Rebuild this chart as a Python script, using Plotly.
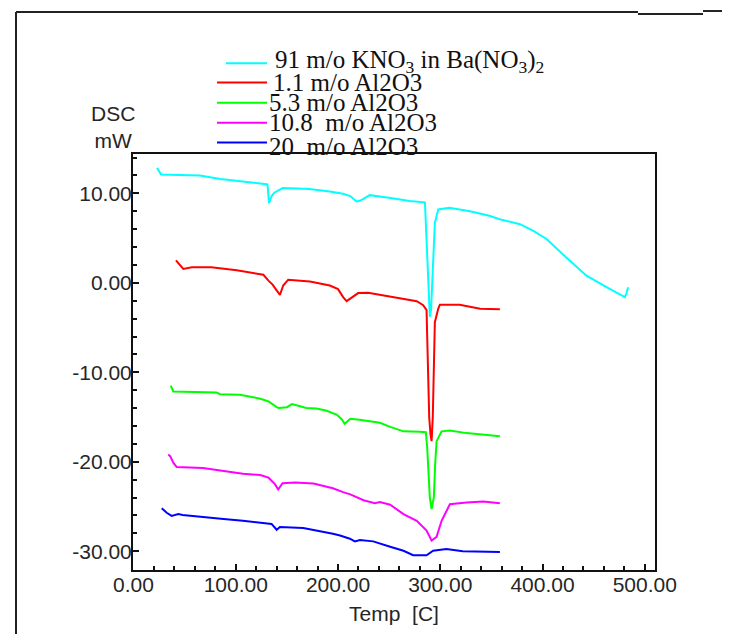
import plotly.graph_objects as go

# ---------------- data ----------------
names = [
    "91 m/o KNO<sub>3</sub> in Ba(NO<sub>3</sub>)<sub>2</sub>",
    "1.1 m/o Al2O3",
    "5.3 m/o Al2O3",
    "10.8  m/o Al2O3",
    "20  m/o Al2O3",
]
colors = ["#00FFFF", "#FF0000", "#00FF00", "#FF00FF", "#0000FF"]

t_kno3 = [23, 25, 27, 45, 65, 85, 105, 124, 131, 132.5, 133.5, 135, 138, 146, 160, 172, 192, 205, 212,
          218, 222, 226, 231, 250, 270, 285, 286.5, 288, 289.8, 291, 292.5, 294.7, 298, 309, 329, 348,
          358, 378, 391, 404, 423, 443, 463, 480.5, 482, 483.7]
y_kno3 = [12.85, 12.5, 12.1, 12.05, 12.0, 11.6, 11.3, 11.1, 11.0, 8.9, 9.2, 9.7, 10.1, 10.6, 10.55, 10.5,
          10.2, 9.95, 9.7, 9.1, 9.2, 9.5, 9.8, 9.5, 9.15, 9.0, 4.9, 0.0, -3.8, -3.0, 0.8, 6.7, 8.2, 8.4,
          8.0, 7.5, 7.1, 6.55, 5.8, 4.9, 2.85, 0.8, -0.5, -1.6, -1.2, -0.5]

t_a11 = [41.5, 45.5, 48.7, 57, 76, 101, 115, 127, 132, 136, 140, 143.2, 146.4, 151.3, 172.5, 192, 200,
         205, 208.4, 211.5, 215, 219.7, 229.5, 257, 277, 283.3, 286.6, 287.2, 289.2, 290.5, 291.5, 292.7,
         293.7, 294.7, 298, 299.6, 319, 339, 358.3]
y_a11 = [2.5, 2.0, 1.55, 1.75, 1.75, 1.4, 1.1, 0.9, 0.25, -0.2, -0.85, -1.35, -0.3, 0.35, 0.15, -0.3,
         -0.7, -1.6, -2.05, -1.8, -1.45, -1.15, -1.1, -1.7, -2.05, -2.5, -3.05, -5.9, -15.1, -17.0, -17.7,
         -15.0, -11.0, -4.4, -2.9, -2.45, -2.45, -2.9, -2.95]

t_a53 = [36.4, 38.9, 60, 81, 84.6, 104, 124, 132, 140, 142, 150, 155, 169, 179, 189, 199, 204, 206.5,
         209, 212, 221, 228, 241, 251, 264, 280, 285.9, 287.2, 289.8, 291.5, 293.7, 295, 296.4, 301.3,
         309.4, 325.7, 345.3, 358.3]
y_a53 = [-11.5, -12.15, -12.2, -12.25, -12.45, -12.5, -12.95, -13.25, -13.9, -14.0, -13.9, -13.55, -14.0,
         -14.05, -14.3, -14.75, -15.3, -15.75, -15.5, -15.2, -15.3, -15.4, -15.65, -16.1, -16.6, -16.65,
         -16.7, -18.4, -24.0, -25.3, -24.0, -20.3, -17.7, -16.6, -16.5, -16.8, -17.0, -17.15]

t_a108 = [34, 36, 38.9, 42.2, 68, 85, 107, 124, 132, 138.3, 141.5, 145.7, 158, 176, 195, 205, 212, 225,
          236, 241, 251, 264, 277, 286.6, 291.5, 296.4, 301.3, 309.4, 325.7, 342, 358.3]
y_a108 = [-19.2, -19.4, -20.1, -20.6, -20.7, -21.0, -21.33, -21.48, -21.78, -22.5, -23.1, -22.4, -22.33,
          -22.44, -22.96, -23.4, -23.65, -24.3, -24.63, -24.5, -24.8, -25.85, -26.6, -27.7, -28.8, -28.4,
          -26.6, -24.75, -24.55, -24.45, -24.65]

t_a20 = [27.6, 32.5, 37.3, 43.8, 48, 67, 88, 107, 127, 135, 140, 143.2, 166, 185.5, 195, 202, 211.6,
         216.5, 221.4, 234.4, 244, 251, 264, 273.5, 286.6, 293, 306, 322, 358.3]
y_a20 = [-25.2, -25.7, -26.05, -25.85, -25.95, -26.2, -26.4, -26.6, -26.8, -26.95, -27.6, -27.3, -27.4,
         -27.8, -28.05, -28.25, -28.6, -28.9, -28.75, -28.9, -29.2, -29.5, -29.95, -30.45, -30.45, -29.95,
         -29.75, -30.0, -30.1]

x_tickvals = [0, 100, 200, 300, 400, 500]
x_ticktext = ["0.00", "100.00", "200.00", "300.00", "400.00", "500.00"]
y_tickvals = [10, 0, -10, -20, -30]
y_ticktext = ["10.00", "0.00", "-10.00", "-20.00", "-30.00"]

series = [(t_kno3, y_kno3), (t_a11, y_a11), (t_a53, y_a53), (t_a108, y_a108), (t_a20, y_a20)]

# ---------------- layout geometry (pixels) ----------------
# the page body adds an 8px margin, so the figure is drawn 8px smaller and shifted
OFF = 8
W, H = 714, 626
L, T = 133 - OFF, 154 - OFF
R = W - (655 - OFF)
B = H - (573 - OFF)
PW, PH = W - L - R, H - T - B


def px_x(px):
    return (px - OFF - L) / PW


def px_y(py):
    return 1 - (py - OFF - T) / PH


TXT = "#262626"
SANS = "Liberation Sans, Arial, sans-serif"
SERIF = "Liberation Serif, Times New Roman, serif"

fig = go.Figure()
for (tx, ty), nm, c in zip(series, names, colors):
    fig.add_trace(go.Scatter(x=tx, y=ty, mode="lines", name=nm,
                             line=dict(color=c, width=2), showlegend=False))

axis_common = dict(
    showgrid=False, zeroline=False, showline=True, mirror=True,
    linecolor="#111", linewidth=2, ticks="inside", ticklen=6, tickwidth=1.5,
    tickcolor="#111", tickfont=dict(family=SANS, size=21, color=TXT),
    tickmode="array",
)

fig.update_xaxes(range=[-0.5, 510], tickvals=x_tickvals, ticktext=x_ticktext,
                 minor=dict(dtick=20, tick0=0, ticks="inside", ticklen=4, tickcolor="#111", tickwidth=1.5),
                 ticklabelstandoff=-5,
                 title=dict(text="Temp  [C]", font=dict(family=SANS, size=21, color=TXT), standoff=11),
                 **axis_common)
fig.update_yaxes(range=[-32.1, 14.4], tickvals=y_tickvals, ticktext=y_ticktext,
                 minor=dict(dtick=2, tick0=0, ticks="inside", ticklen=4, tickcolor="#111", tickwidth=1.5),
                 ticklabelstandoff=-5,
                 **axis_common)

shapes = []
annotations = []

# outer page frame
frame_col = "#222"
for (x0, y0, x1, y1) in [(16, 11, 16, 642), (16, 11, 638, 11), (638, 13, 703, 13), (703, 10, 730, 10)]:
    shapes.append(dict(type="line", xref="paper", yref="paper",
                       x0=px_x(x0), y0=px_y(y0), x1=px_x(x1), y1=px_y(y1),
                       line=dict(color=frame_col, width=2)))

# legend (drawn manually to reproduce the tight spacing of the original)
leg_line_x0 = [226, 217, 217, 217, 217]
leg_line_y = [62.5, 82, 102.5, 122.5, 142.5]
leg_text_x = [273, 271, 267, 267, 267]
leg_text_y = [61, 82, 102, 122, 146]
for i in range(5):
    shapes.append(dict(type="line", xref="paper", yref="paper",
                       x0=px_x(leg_line_x0[i]), x1=px_x(267),
                       y0=px_y(leg_line_y[i]), y1=px_y(leg_line_y[i]),
                       line=dict(color=colors[i], width=2)))
    annotations.append(dict(xref="paper", yref="paper", x=px_x(leg_text_x[i]), y=px_y(leg_text_y[i]),
                            xanchor="left", yanchor="middle", showarrow=False, text=names[i],
                            font=dict(family=SERIF, size=25, color="#111")))

# y axis label
annotations.append(dict(xref="paper", yref="paper", x=px_x(113), y=px_y(127),
                        xanchor="center", yanchor="middle", showarrow=False,
                        text="DSC<br>mW", font=dict(family=SANS, size=21, color=TXT)))

fig.update_layout(
    width=W, height=H, margin=dict(l=L, r=R, t=T, b=B),
    plot_bgcolor="white", paper_bgcolor="white",
    shapes=shapes, annotations=annotations, showlegend=False,
)

fig.write_html("out.html")
